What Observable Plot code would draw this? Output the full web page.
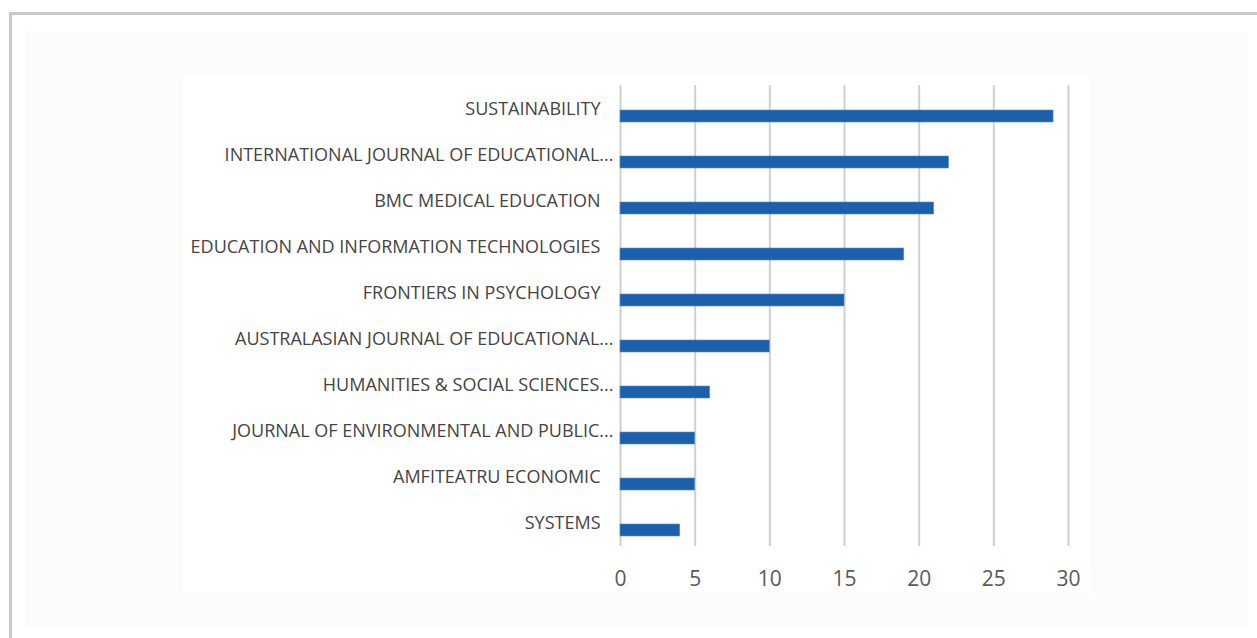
<!DOCTYPE html>
<html>
<head>
<meta charset="utf-8">
<script src="https://cdn.jsdelivr.net/npm/d3@7"></script>
<script src="https://cdn.jsdelivr.net/npm/@observablehq/plot@0.6"></script>
<style>
  html, body { margin: 0; padding: 0; background: #ffffff; width: 1257px; height: 638px; overflow: hidden; }
  #frame { position: absolute; left: 9px; top: 12px; width: 1260px; height: 640px; border: 3px solid #c9c9c9; box-sizing: border-box; }
  #outerArea { position: absolute; left: 25px; top: 32px; width: 1223px; height: 596px; background: #fdfcfb; }
  #innerArea { position: absolute; left: 183px; top: 75px; width: 907px; height: 518px; background: #ffffff; }
  #chart { position: absolute; left: 0; top: 0; }
  #chart svg { background: transparent; }
</style>
</head>
<body>
<div id="frame"></div>
<div id="outerArea"></div>
<div id="innerArea"></div>
<div id="chart"></div>
<script>
const journals = [
  "SUSTAINABILITY",
  "INTERNATIONAL JOURNAL OF EDUCATIONAL...",
  "BMC MEDICAL EDUCATION",
  "EDUCATION AND INFORMATION TECHNOLOGIES",
  "FRONTIERS IN PSYCHOLOGY",
  "AUSTRALASIAN JOURNAL OF EDUCATIONAL...",
  "HUMANITIES & SOCIAL SCIENCES...",
  "JOURNAL OF ENVIRONMENTAL AND PUBLIC...",
  "AMFITEATRU ECONOMIC",
  "SYSTEMS"
];
const counts = [29, 22, 21, 19, 15, 10, 6, 5, 5, 4];
const xTicks = [0, 5, 10, 15, 20, 25, 30];

const data = journals.map((j, i) => ({journal: j, count: counts[i]}));
const truncated = data.filter(d => d.journal.endsWith("..."));
const full = data.filter(d => !d.journal.endsWith("..."));

const chart = Plot.plot({
  width: 1257,
  height: 638,
  marginLeft: 620,
  marginRight: 189,
  marginTop: 85,
  marginBottom: 92,
  style: {fontFamily: "'Open Sans', sans-serif", background: "transparent"},
  x: {domain: [0, 30], ticks: xTicks, label: null},
  y: {domain: journals, paddingInner: 0.74, paddingOuter: 0.37, label: null},
  marks: [
    Plot.gridX(xTicks, {stroke: "#cfcfcf", strokeOpacity: 1, strokeWidth: 2}),
    Plot.barX(data, {x: "count", y: "journal", fill: "#1c5fab", stroke: "#5b8fcc", strokeWidth: 0.6, dy: 7}),
    Plot.axisX(xTicks, {tickSize: 0, tickPadding: 25, fontSize: 21, fill: "#595959", label: null}),
    Plot.axisY({ticks: [], label: null, tickSize: 0}),
    Plot.text(full, {x: 0, y: "journal", text: "journal", textAnchor: "end", dx: -20, fontSize: 18, fill: "#444444"}),
    Plot.text(truncated, {x: 0, y: "journal", text: "journal", textAnchor: "end", dx: -7, fontSize: 18, fill: "#444444"})
  ]
});
document.getElementById("chart").appendChild(chart);
</script>
</body>
</html>
